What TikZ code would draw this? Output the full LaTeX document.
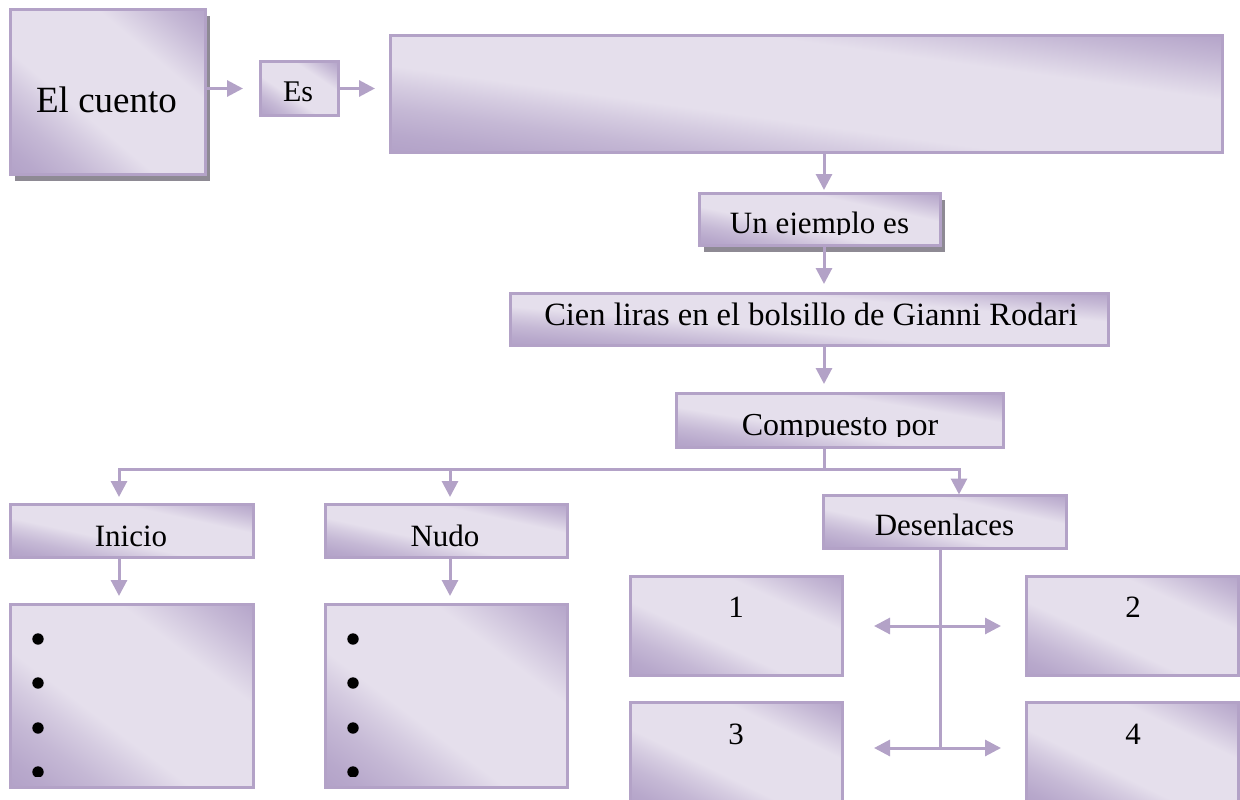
\documentclass[tikz,border=0pt]{standalone}
\usepackage{fontspec}
\setmainfont{Liberation Serif}
\usetikzlibrary{arrows.meta}
\definecolor{dk}{HTML}{B09FC6}
\definecolor{lt}{HTML}{E5DFEC}
\definecolor{ln}{HTML}{B3A2C7}
\definecolor{shd}{HTML}{8E8A94}
\colorlet{m1}{dk!85!lt}
\colorlet{m2}{dk!60!lt}
\colorlet{m3}{dk!30!lt}
\pgfdeclarehorizontalshading{diagsh}{100bp}{color(0bp)=(dk); color(12bp)=(dk); color(20bp)=(m1); color(28bp)=(m2); color(35bp)=(m3); color(41bp)=(lt); color(66bp)=(lt); color(72bp)=(m3); color(78bp)=(m2); color(84bp)=(m1); color(90bp)=(dk); color(100bp)=(dk)}
\newcommand\gshade[4]{\begin{scope}[transform canvas={shift={(#1,#2)},xscale=#3/100,yscale=#4/100}]\shade[shading=diagsh, shading angle=45] (-50,-50) rectangle (50,50);\end{scope}}
\tikzset{
  box/.style={draw=ln, line width=3pt, inner sep=0pt, outer sep=0pt},
  txt/.style={anchor=base, inner sep=0pt, outer sep=0pt, font=\fontsize{31}{36}\selectfont},
  lnst/.style={draw=ln, line width=3pt},
  arr/.style={lnst, -{Triangle[length=16pt,width=16pt]}},
  darr/.style={lnst, {Triangle[length=16pt,width=16pt]}-{Triangle[length=16pt,width=16pt]}},
}
\begin{document}
\begin{tikzpicture}[x=1pt,y=-1pt]
\useasboundingbox (0,0) rectangle (1240,800);
% shadows
\fill[shd] (14.5,16.5) rectangle (209.5,180.5);
\fill[shd] (704,199.5) rectangle (944.5,251.5);
% shadings
\gshade{107.5}{92}{195}{164}
\gshade{299}{88.5}{78}{53}
\gshade{806}{94}{832}{116}
\gshade{819.5}{219}{241}{52}
\gshade{809}{319}{598}{52}
\gshade{839.5}{420}{327}{54}
\gshade{131.5}{530.5}{243}{53}
\gshade{446}{530.5}{242}{53}
\gshade{944.5}{521.5}{243}{53}
\gshade{131.5}{695.5}{243}{183}
\gshade{446}{695.5}{242}{183}
\gshade{736}{625.5}{212}{99}
\gshade{1132}{625.5}{212}{99}
\gshade{736}{754}{212}{104}
\gshade{1132}{754}{212}{104}
% boxes
\node[box, minimum width=195pt, minimum height=164pt] (cuento) at (107.5,92) {};
\node[box, minimum width=78pt, minimum height=53pt] (es) at (299,88.5) {};
\node[box, minimum width=832pt, minimum height=116pt] (def) at (806,94) {};
\node[box, minimum width=241pt, minimum height=52pt] (ejemplo) at (819.5,219) {};
\node[box, minimum width=598pt, minimum height=52pt] (cien) at (809,319) {};
\node[box, minimum width=327pt, minimum height=54pt] (comp) at (839.5,420) {};
\node[box, minimum width=243pt, minimum height=53pt] (inicio) at (131.5,530.5) {};
\node[box, minimum width=242pt, minimum height=53pt] (nudo) at (446,530.5) {};
\node[box, minimum width=243pt, minimum height=53pt] (desen) at (944.5,521.5) {};
\node[box, minimum width=243pt, minimum height=183pt] (ilist) at (131.5,695.5) {};
\node[box, minimum width=242pt, minimum height=183pt] (nlist) at (446,695.5) {};
\node[box, minimum width=212pt, minimum height=99pt] (d1) at (736,625.5) {};
\node[box, minimum width=212pt, minimum height=99pt] (d2) at (1132,625.5) {};
\node[box, minimum width=212pt, minimum height=104pt] (d3) at (736,754) {};
\node[box, minimum width=212pt, minimum height=104pt] (d4) at (1132,754) {};
% texts
\node[txt, font=\fontsize{37}{42}\selectfont] (tcuento) at (106.5,112) {El cuento};
\node[txt, font=\fontsize{30}{36}\selectfont] (tes) at (298,102) {Es};
\begin{scope}
\clip (ejemplo.north west) rectangle (ejemplo.east |- 0,234);
\node[txt] (tejemplo) at (819.5,233) {Un ejemplo es};
\end{scope}
\node[txt, font=\fontsize{32.5}{38}\selectfont] (tcien) at (811,325) {Cien liras en el bolsillo de Gianni Rodari};
\begin{scope}
\clip (comp.north west) rectangle (comp.east |- 0,436);
\node[txt, font=\fontsize{32}{38}\selectfont] (tcomp) at (840,435) {Compuesto por};
\end{scope}
\node[txt] (tinicio) at (131,546) {Inicio};
\node[txt] (tnudo) at (445,546) {Nudo};
\node[txt] (tdesen) at (944.5,535) {Desenlaces};
\node[txt] (t1) at (736,617) {1};
\node[txt] (t2) at (1133,617) {2};
\node[txt] (t3) at (736,744) {3};
\node[txt] (t4) at (1133,744) {4};
% bullets
\foreach \yy in {639,683,728} {
  \fill (ilist.west |- 0,\yy) ++(28,0) circle (5.7pt);
  \fill (nlist.west |- 0,\yy) ++(28,0) circle (5.7pt);
}
\begin{scope}
\clip (ilist.west |- 0,760) rectangle (nlist.east |- 0,776);
\fill (ilist.west |- 0,772) ++(28,0) circle (5.7pt);
\fill (nlist.west |- 0,772) ++(28,0) circle (5.7pt);
\end{scope}
% coordinates
\coordinate (spine) at (824,0);
\coordinate (bus) at (0,469);
\coordinate (ix) at (119,0);
\coordinate (nx) at (450,0);
\coordinate (dx) at (959,0);
\coordinate (hx) at (940,0);
\coordinate (r1) at (0,626);
\coordinate (r2) at (0,748);
% connectors
\draw[arr, shorten >=17pt] (cuento.east |- es.west) -- (es.west);
\draw[arr, shorten >=15pt] (es.east) -- (def.west |- es.east);
\draw[arr, shorten >=3pt] (def.south -| spine) -- (ejemplo.north -| spine);
\draw[arr, shorten >=9pt] (ejemplo.south -| spine) -- (cien.north -| spine);
\draw[arr, shorten >=9pt] (cien.south -| spine) -- (comp.north -| spine);
\draw[lnst] (comp.south -| spine) -- (bus -| spine);
\draw[arr, shorten >=7pt] (bus -| spine) -| (inicio.north -| ix);
\draw[arr, shorten >=7pt] (bus -| nx) -- (nudo.north -| nx);
\draw[arr, shorten >=0.5pt] (bus -| spine) -| (desen.north -| dx);
\draw[arr, shorten >=8pt] (inicio.south -| ix) -- (ilist.north -| ix);
\draw[arr, shorten >=8pt] (nudo.south -| nx) -- (nlist.north -| nx);
\draw[lnst] (desen.south -| hx) -- (hx |- r2);
\draw[darr, shorten <=32pt, shorten >=25pt] (d1.east |- r1) -- (d2.west |- r1);
\draw[darr, shorten <=32pt, shorten >=25pt] (d3.east |- r2) -- (d4.west |- r2);
\end{tikzpicture}
\end{document}
